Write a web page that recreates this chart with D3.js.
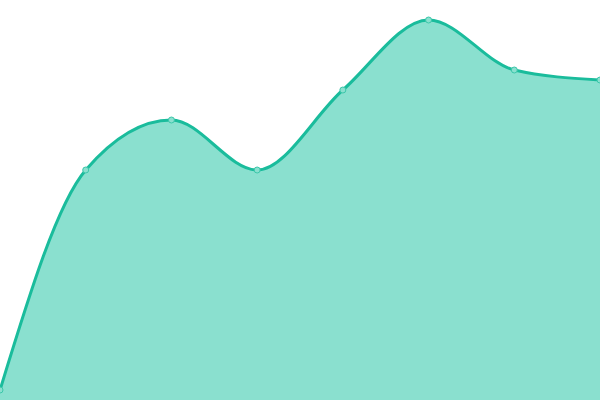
<!DOCTYPE html>
<html>
<head>
<meta charset="utf-8">
<script src="https://cdn.jsdelivr.net/npm/d3@7"></script>
<style>
  html, body { margin: 0; padding: 0; background: #fff; }
  svg { display: block; }
</style>
</head>
<body>
<div id="chart"></div>
<script>
  // data
  const categories = ["A", "B", "C", "D", "E", "F", "G", "H"];
  const values = [1, 23, 28, 23, 31, 38, 33, 32];
  const yMax = 40;

  const width = 600;
  const height = 400;

  const svg = d3
    .select("#chart")
    .append("svg")
    .attr("width", width)
    .attr("height", height);

  const x = d3.scalePoint().domain(categories).range([0, width]);
  const y = d3.scaleLinear().domain([0, yMax]).range([height, 0]);

  const points = categories.map((c, i) => ({ cat: c, value: values[i] }));

  const area = d3
    .area()
    .x((d) => x(d.cat))
    .y0(height)
    .y1((d) => y(d.value))
    .curve(d3.curveMonotoneX);

  const line = d3
    .line()
    .x((d) => x(d.cat))
    .y((d) => y(d.value))
    .curve(d3.curveMonotoneX);

  svg
    .append("path")
    .datum(points)
    .attr("d", area)
    .attr("fill", "#8ae0cf");

  svg
    .append("path")
    .datum(points)
    .attr("d", line)
    .attr("fill", "none")
    .attr("stroke", "#1abc9c")
    .attr("stroke-width", 3);

  svg
    .append("g")
    .selectAll("circle")
    .data(points)
    .enter()
    .append("circle")
    .attr("cx", (d) => x(d.cat))
    .attr("cy", (d) => y(d.value))
    .attr("r", 3)
    .attr("fill", "#8ae0cf")
    .attr("stroke", "#3cc7aa")
    .attr("stroke-width", 1);
</script>
</body>
</html>
